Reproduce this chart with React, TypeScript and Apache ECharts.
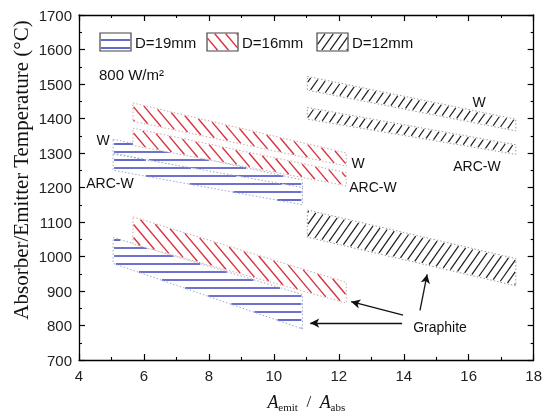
import React, { useEffect, useRef } from 'react';
import * as echarts from 'echarts';

// ---- data (x = A_emit / A_abs, y = temperature in °C) ----
// D = 19 mm (blue, horizontal hatch)
const d19X = [5.05, 10.88];
const d19WUpper = [1340, 1222];
const d19WLower = [1300, 1190];
const d19ArcUpper = [1297, 1200];
const d19ArcLower = [1250, 1150];
const d19GraphiteUpper = [1055, 890];
const d19GraphiteLower = [980, 790];
// D = 16 mm (red, "\" hatch)
const d16X = [5.66, 12.23];
const d16WUpper = [1445, 1300];
const d16WLower = [1392, 1262];
const d16ArcUpper = [1372, 1243];
const d16ArcLower = [1322, 1205];
const d16GraphiteUpper = [1115, 925];
const d16GraphiteLower = [1036, 865];
// D = 12 mm (black, "/" hatch)
const d12X = [11.03, 17.45];
const d12WUpper = [1522, 1398];
const d12WLower = [1482, 1364];
const d12ArcUpper = [1432, 1324];
const d12ArcLower = [1398, 1296];
const d12GraphiteUpper = [1135, 994];
const d12GraphiteLower = [1056, 915];

const legendNames = ['D=19mm', 'D=16mm', 'D=12mm'];

// arrows pointing from the "Graphite" label (data coords: [tail, head])
const arrowBlue = [[13.95, 807], [11.12, 807]];
const arrowRed = [[13.98, 830], [12.38, 869]];
const arrowBlack = [[14.5, 844], [14.72, 948]];

const band = (x: number[], up: number[], lo: number[]) => [x[0], x[1], up[0], up[1], lo[0], lo[1]];

type Hatch = { angle: number; spacing: number; color: string; width: number; outline: string };

const hatchBlue: Hatch = { angle: 0, spacing: 8, color: '#3d44bd', width: 1.6, outline: '#9aa6cf' };
const hatchRed: Hatch = { angle: 50, spacing: 8.4, color: '#d8323e', width: 1.4, outline: '#c9a8aa' };
const hatchBlack: Hatch = { angle: -55, spacing: 6.8, color: '#1c1c1c', width: 1.2, outline: '#999999' };

function hatchSegments(poly: number[][], angleDeg: number, spacing: number, inset = 1) {
  const a = (angleDeg * Math.PI) / 180;
  const d = [Math.cos(a), Math.sin(a)];
  const n = [-Math.sin(a), Math.cos(a)];
  const proj = poly.map((p) => p[0] * n[0] + p[1] * n[1]);
  const mn = Math.min(...proj);
  const mx = Math.max(...proj);
  const segs: number[][] = [];
  for (let k = Math.ceil(mn / spacing); k * spacing <= mx; k++) {
    const c = k * spacing;
    const pts: number[][] = [];
    for (let i = 0; i < poly.length; i++) {
      const j = (i + 1) % poly.length;
      const A = poly[i];
      const B = poly[j];
      const a1 = proj[i] - c;
      const b1 = proj[j] - c;
      if ((a1 <= 0 && b1 >= 0) || (a1 >= 0 && b1 <= 0)) {
        if (a1 === b1) continue;
        const s = a1 / (a1 - b1);
        pts.push([A[0] + s * (B[0] - A[0]), A[1] + s * (B[1] - A[1])]);
      }
    }
    if (pts.length >= 2) {
      pts.sort((p, q) => p[0] * d[0] + p[1] * d[1] - (q[0] * d[0] + q[1] * d[1]));
      const P = pts[0];
      const Q = pts[pts.length - 1];
      const len = Math.hypot(Q[0] - P[0], Q[1] - P[1]);
      if (len > 2 * inset + 0.5) {
        const ux = (Q[0] - P[0]) / len;
        const uy = (Q[1] - P[1]) / len;
        segs.push([P[0] + ux * inset, P[1] + uy * inset, Q[0] - ux * inset, Q[1] - uy * inset]);
      }
    }
  }
  return segs;
}

function hatchedPolygon(poly: number[][], h: Hatch, fillStroke: string, dotted: boolean) {
  const children: any[] = [
    { type: 'polygon', shape: { points: poly }, style: { fill: '#ffffff', stroke: 'none' } },
  ];
  hatchSegments(poly, h.angle, h.spacing).forEach((s) => {
    children.push({
      type: 'line',
      shape: { x1: s[0], y1: s[1], x2: s[2], y2: s[3] },
      style: { stroke: h.color, lineWidth: h.width },
    });
  });
  children.push({
    type: 'polygon',
    shape: { points: poly },
    style: dotted
      ? { fill: 'none', stroke: fillStroke, lineWidth: 1, lineDash: [1.5, 2] }
      : { fill: 'none', stroke: fillStroke, lineWidth: 1.2 },
  });
  return children;
}

function makeRenderItem(h: Hatch) {
  return (params: any, api: any) => {
    const x0 = api.value(0);
    const x1 = api.value(1);
    const tl = api.coord([x0, api.value(2)]);
    const tr = api.coord([x1, api.value(3)]);
    const br = api.coord([x1, api.value(5)]);
    const bl = api.coord([x0, api.value(4)]);
    return { type: 'group', children: hatchedPolygon([tl, tr, br, bl], h, h.outline, true) };
  };
}

function legendItem(x: number, y: number, h: Hatch, label: string) {
  const w = 31;
  const hh = 18;
  const poly = [
    [x, y],
    [x + w, y],
    [x + w, y + hh],
    [x, y + hh],
  ];
  const children = hatchedPolygon(poly, h, '#444444', false);
  children.push({
    type: 'text',
    x: x + w + 4,
    y: y + hh / 2,
    style: {
      text: label,
      fontFamily: 'Liberation Sans, Arial, sans-serif',
      fontSize: 15,
      fill: '#111',
      verticalAlign: 'middle',
    },
  });
  return { type: 'group', children };
}

const annText = (x: number, y: number, t: string, align = 'center') => ({
  type: 'text',
  x,
  y,
  style: {
    text: t,
    fontFamily: 'Liberation Sans, Arial, sans-serif',
    fontSize: 14,
    fill: '#111',
    align,
    verticalAlign: 'middle',
  },
});

export default function App() {
  const ref = useRef<HTMLDivElement>(null);
  useEffect(() => {
    if (!ref.current) return;
    const chart = echarts.init(ref.current, null, { renderer: 'svg' });
    const axisLine = { show: true, lineStyle: { color: '#000', width: 1.3 } };
    const tick = { show: true, inside: true, length: 6, lineStyle: { color: '#000', width: 1.2 } };
    const minor = { show: true, splitNumber: 2, length: 3, lineStyle: { color: '#000', width: 1.1 } };
    const labelStyle = { fontFamily: 'Liberation Sans, Arial, sans-serif', fontSize: 15, color: '#222' };
    const option: any = {
      animation: false,
      grid: { left: 79, right: 10, top: 15, bottom: 49, containLabel: false },
      xAxis: [
        {
          type: 'value',
          min: 4,
          max: 18,
          interval: 2,
          axisLine,
          axisTick: tick,
          minorTick: minor,
          splitLine: { show: false },
          axisLabel: { ...labelStyle, margin: 8 },
          name: '{a|A}{s|emit}{n|  /  }{a|A}{s|abs}',
          nameLocation: 'middle',
          nameGap: 31,
          nameTextStyle: {
            rich: {
              a: { fontFamily: 'Liberation Serif, serif', fontStyle: 'italic', fontSize: 18, color: '#111' },
              n: { fontFamily: 'Liberation Serif, serif', fontSize: 17, color: '#111' },
              s: { fontFamily: 'Liberation Serif, serif', fontSize: 11, color: '#111', padding: [10, 0, 0, 0] },
            },
          },
        },
        {
          type: 'value',
          position: 'top',
          min: 4,
          max: 18,
          interval: 2,
          axisLine,
          axisTick: tick,
          minorTick: minor,
          splitLine: { show: false },
          axisLabel: { show: false },
        },
      ],
      yAxis: [
        {
          type: 'value',
          min: 700,
          max: 1700,
          interval: 100,
          axisLine,
          axisTick: tick,
          minorTick: minor,
          splitLine: { show: false },
          axisLabel: { ...labelStyle, margin: 7, formatter: (v: number) => String(v) },
        },
        {
          type: 'value',
          position: 'right',
          min: 700,
          max: 1700,
          interval: 100,
          axisLine,
          axisTick: tick,
          minorTick: minor,
          splitLine: { show: false },
          axisLabel: { show: false },
        },
      ],
      series: [
        {
          type: 'custom',
          name: legendNames[0],
          renderItem: makeRenderItem(hatchBlue),
          encode: { x: [0, 1], y: [2, 3, 4, 5] },
          data: [band(d19X, d19WUpper, d19WLower), band(d19X, d19ArcUpper, d19ArcLower), band(d19X, d19GraphiteUpper, d19GraphiteLower)],
          silent: true,
        },
        {
          type: 'custom',
          name: legendNames[1],
          renderItem: makeRenderItem(hatchRed),
          encode: { x: [0, 1], y: [2, 3, 4, 5] },
          data: [band(d16X, d16WUpper, d16WLower), band(d16X, d16ArcUpper, d16ArcLower), band(d16X, d16GraphiteUpper, d16GraphiteLower)],
          silent: true,
        },
        {
          type: 'custom',
          name: legendNames[2],
          renderItem: makeRenderItem(hatchBlack),
          encode: { x: [0, 1], y: [2, 3, 4, 5] },
          data: [band(d12X, d12WUpper, d12WLower), band(d12X, d12ArcUpper, d12ArcLower), band(d12X, d12GraphiteUpper, d12GraphiteLower)],
          silent: true,
        },
        {
          type: 'line',
          data: [],
          silent: true,
          markLine: {
            silent: true,
            symbol: ['none', 'arrow'],
            symbolSize: [7, 9],
            label: { show: false },
            lineStyle: { color: '#111', width: 1.3, type: 'solid' },
            data: [arrowBlue, arrowRed, arrowBlack].map((a) => [{ coord: a[0] }, { coord: a[1] }]),
          },
        },
      ],
      graphic: [
        {
          type: 'text',
          x: 21,
          y: 170,
          rotation: Math.PI / 2,
          style: {
            text: 'Absorber/Emitter Temperature (°C)',
            fontFamily: 'Liberation Serif, serif',
            fontSize: 21,
            fill: '#111',
            align: 'center',
            verticalAlign: 'middle',
          },
        },
        legendItem(100, 33, hatchBlue, legendNames[0]),
        legendItem(207, 33, hatchRed, legendNames[1]),
        legendItem(317, 33, hatchBlack, legendNames[2]),
        {
          type: 'text',
          x: 99,
          y: 74,
          style: {
            text: '800 W/m²',
            fontFamily: 'Liberation Sans, Arial, sans-serif',
            fontSize: 15,
            fill: '#111',
            verticalAlign: 'middle',
          },
        },
        annText(103, 140, 'W'),
        annText(110, 183, 'ARC-W'),
        annText(358, 163, 'W'),
        annText(373, 187, 'ARC-W'),
        annText(479, 102, 'W'),
        annText(477, 166, 'ARC-W'),
        annText(440, 327, 'Graphite'),
      ],
    };
    chart.setOption(option);
    return () => chart.dispose();
  }, []);
  return <div ref={ref} style={{ position: 'fixed', left: 0, top: 0, width: 545, height: 417 }} />;
}
